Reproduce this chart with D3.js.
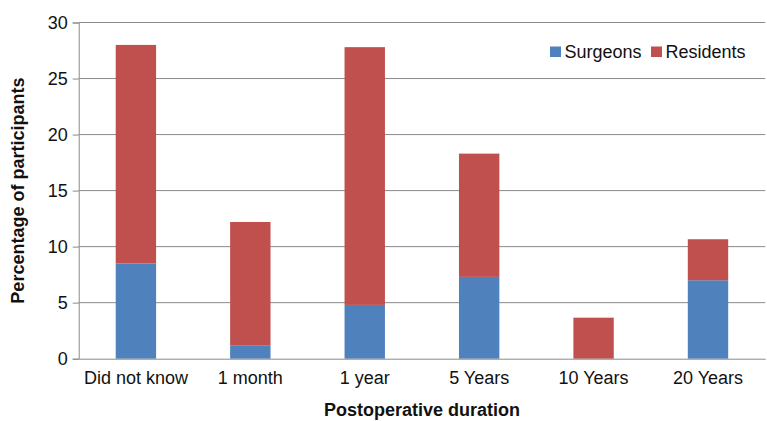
<!DOCTYPE html>
<html><head><meta charset="utf-8">
<script src="https://cdn.jsdelivr.net/npm/d3@7"></script>
<style>body{margin:0;background:#fff;} text{font-family:"Liberation Sans",Arial,sans-serif;}</style>
</head><body>
<svg id="c" width="767" height="421"></svg>
<script>
const categories = ["Did not know","1 month","1 year","5 Years","10 Years","20 Years"];
const surgeons = [8.5, 1.2, 4.8, 7.3, 0, 7.0];
const residents = [19.5, 11.0, 23.0, 11.0, 3.66, 3.66];
const seriesNames = ["Surgeons","Residents"];
const seriesColors = ["#4F81BD","#C0504D"];
const yTicks = [0,5,10,15,20,25,30];

const svg = d3.select("#c");
const m = {l:78.7, r:765.2, t:22.5, b:358.7};
const x = d3.scaleBand().domain(categories).range([m.l, m.r]).paddingInner(0.647).paddingOuter(0.3235);
const y = d3.scaleLinear().domain([0,30]).range([m.b, m.t]);

const table = categories.map((c,i)=>({cat:c, Surgeons:surgeons[i], Residents:residents[i]}));
const stack = d3.stack().keys(seriesNames)(table);

// gridlines + y axis
const ya = svg.append("g").attr("transform",`translate(${m.l},0)`)
  .call(d3.axisLeft(y).tickValues(yTicks).tickSize(6).tickPadding(5).tickFormat(d3.format("d")));
ya.select(".domain").attr("stroke","#8a8a8a");
ya.selectAll(".tick line").attr("stroke","#8a8a8a");
ya.selectAll(".tick text").attr("font-size","18px").attr("fill","#111").style("font-family","Liberation Sans, Arial, sans-serif");
svg.append("g").selectAll("line").data(yTicks.filter(d=>d>0)).join("line")
  .attr("x1",m.l).attr("x2",m.r).attr("y1",d=>y(d)).attr("y2",d=>y(d))
  .attr("stroke","#8a8a8a").attr("stroke-width",1);

// bars
svg.append("g").selectAll("g").data(stack).join("g")
  .attr("fill",(d,i)=>seriesColors[i])
  .selectAll("rect").data(d=>d).join("rect")
  .attr("x",d=>x(d.data.cat)).attr("width",x.bandwidth())
  .attr("y",d=>y(d[1])).attr("height",d=>Math.max(0,y(d[0])-y(d[1])));

// x axis
const xa = svg.append("g").attr("transform",`translate(0,${m.b})`)
  .call(d3.axisBottom(x).tickSize(0).tickPadding(13));
xa.select(".domain").attr("stroke","#8a8a8a");
xa.selectAll(".tick text").attr("font-size","18px").attr("fill","#111").style("font-family","Liberation Sans, Arial, sans-serif");

// axis titles
svg.append("text").attr("x",(m.l+m.r)/2).attr("y",416).attr("text-anchor","middle")
  .attr("font-size","18px").attr("font-weight","bold").attr("fill","#111").text("Postoperative duration");
svg.append("text").attr("transform",`translate(24,${(m.t+m.b)/2}) rotate(-90)`).attr("text-anchor","middle")
  .attr("font-size","18px").attr("font-weight","bold").attr("fill","#111").text("Percentage of participants");

// legend
const lg = svg.append("g");
const lx = [550, 651];
seriesNames.forEach((n,i)=>{
  lg.append("rect").attr("x",lx[i]).attr("y",46.5).attr("width",11).attr("height",10.5).attr("fill",seriesColors[i]);
  lg.append("text").attr("x",lx[i]+14.5).attr("y",58).attr("font-size","18px").attr("fill","#111").text(n);
});
</script>
</body></html>
